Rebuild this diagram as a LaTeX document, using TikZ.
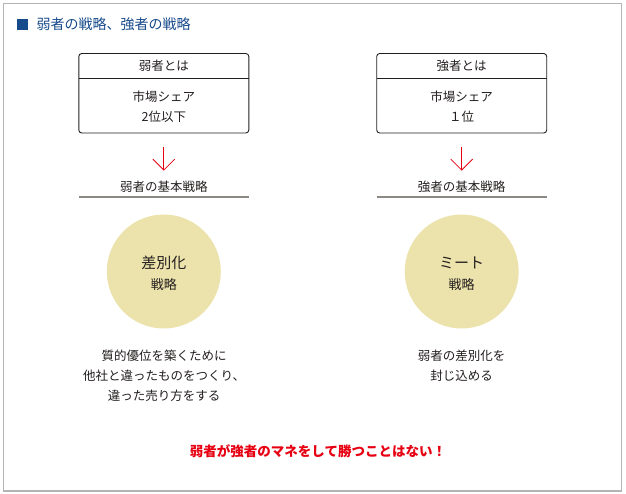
\documentclass[tikz,border=0pt]{standalone}
\usepackage{fontspec}
\setmainfont{Noto Sans CJK JP}
\usetikzlibrary{arrows.meta}
\definecolor{headblue}{RGB}{22,74,138}
\definecolor{alertred}{RGB}{230,0,18}
\definecolor{framegray}{RGB}{180,180,180}
\definecolor{rulegray}{RGB}{140,137,133}
\definecolor{circlebeige}{RGB}{236,227,172}
\definecolor{inkgray}{RGB}{35,30,30}
\begin{document}
\begin{tikzpicture}[x=1pt,y=-1pt,
    every node/.style={text=inkgray,font=\fontsize{12.5}{20}\selectfont,align=center},
    infobox/.style={draw=inkgray,line width=0.9pt,rounded corners=3pt,minimum width=170pt,minimum height=79.5pt},
    strategy/.style={circle,fill=circlebeige,minimum size=114pt,inner sep=0pt},
    downarrow/.style={alertred,line width=0.8pt,-{Straight Barb[length=11pt,width=22pt]}}]
        \useasboundingbox (0,0) rectangle (626,494);
        \draw[framegray,line width=1.2pt] (3.5,3.5) rectangle (621.5,491);
        \fill[headblue] (17,19) rectangle (28,30);
        \node[anchor=west,text=headblue,font=\fontsize{14}{16}\selectfont] (title) at (33,24.5) {弱者の戦略、強者の戦略};
        \foreach \x/\n/\who/\rank in {163.8/L/弱者/2位以下,461.7/R/強者/１位}{
            \node[infobox] (box\n) at (\x,93.25) {};
            \draw[inkgray,line width=0.9pt] (\x-85,78) -- (\x+85,78);
            \node (head\n) at (\x,66) {\who とは};
            \node (share\n) at (\x,107) {市場シェア\\\rank};
            \node (base\n) at (\x,187) {\who の基本戦略};
            \draw[downarrow,shorten <=14pt,shorten >=7pt] (box\n) -- (base\n);
            \draw[rulegray,line width=2pt] (\x-85,197) -- (\x+85,197);
            \node[strategy] (core\n) at (\x,271.5) {};
        }
        \node[font=\fontsize{15}{18}\selectfont] (coreLtop) at (163.8,263) {差別化};
        \node[font=\fontsize{13}{16}\selectfont] (coreLsub) at (163.8,285) {戦略};
        \node[font=\fontsize{15}{18}\selectfont] (coreRtop) at (461.7,263) {ミート};
        \node[font=\fontsize{13}{16}\selectfont] (coreRsub) at (461.7,285) {戦略};
        \node (descL) at (164,376) {質的優位を築くために\\他社と違ったものをつくり、\\違った売り方をする};
        \node (descR) at (461.7,366) {弱者の差別化を\\封じ込める};
        \node[text=alertred,font=\fontsize{13.5}{16}\selectfont\bfseries] (moral) at (318,451) {弱者が強者のマネをして勝つことはない！};
\end{tikzpicture}
\end{document}
